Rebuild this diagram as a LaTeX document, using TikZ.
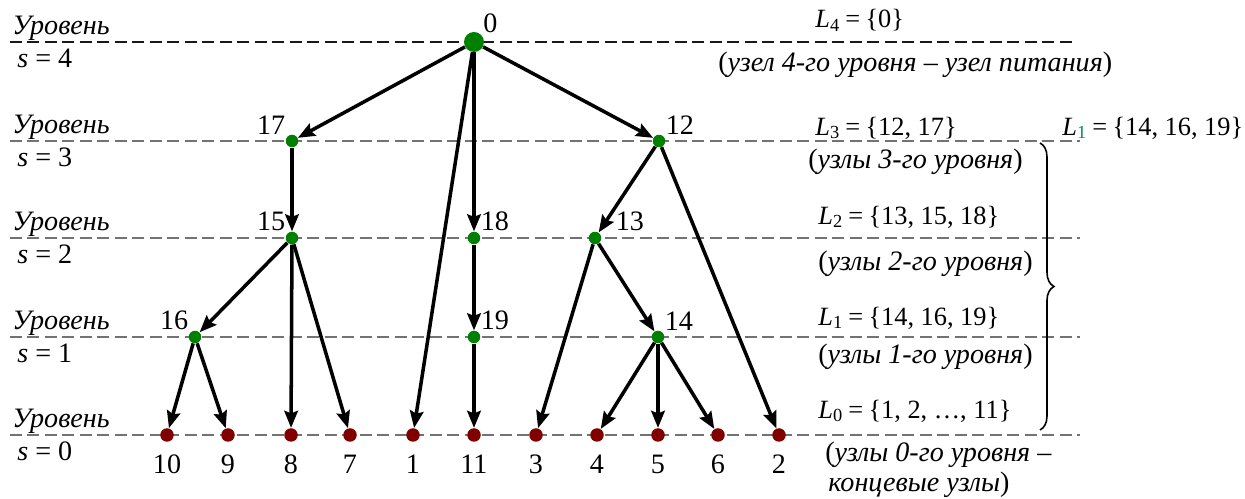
\documentclass[tikz,border=0pt]{standalone}
\usepackage{fontspec}
\setmainfont{Liberation Serif}
\usetikzlibrary{arrows.meta,decorations.pathreplacing}
\definecolor{treeInner}{RGB}{0,128,0}
\definecolor{treeLeaf}{RGB}{128,0,0}
\definecolor{treeMark}{RGB}{0,140,100}

\begin{document}
\begin{tikzpicture}[
    font=\fontsize{16}{19}\selectfont,
    inner/.style={circle, fill=treeInner, inner sep=0pt, minimum size=0.25cm},
    root/.style={circle, fill=treeInner, inner sep=0pt, minimum size=0.40cm},
    leaf/.style={circle, fill=treeLeaf, inner sep=0pt, minimum size=0.27cm},
    lab/.style={inner sep=1pt},
    leaflab/.style={inner sep=1pt, label distance=0.22cm},
    edge/.style={line width=2pt, -{Stealth[length=0.34cm, width=0.27cm, inset=0.05cm]}},
    levelline/.style={line width=0.9pt, dash pattern=on 0.24cm off 0.11cm, black!55},
    txt/.style={anchor=west, inner sep=0pt},
    settxt/.style={txt, font=\fontsize{15}{18}\selectfont}
  ]
% Tree levels, drawn in pixel units of the source figure
\def\px{0.02cm}
\providecommand{\lvlRight}{1080}
\providecommand{\Lsub}[1]{\textit{L}\textsubscript{#1}\hspace{0.2em}=\hspace{0.2em}}
\begin{scope}[x=\px, y=-\px]
  \useasboundingbox (0,0) rectangle (1245,499);
  % Level lines
  \draw[levelline, black!90] (10,42) -- (1075,42);
  \draw[levelline] (10,141) -- (\lvlRight,141);
  \draw[levelline] (10,238) -- (\lvlRight,238);
  \draw[levelline] (10,337) -- (\lvlRight,337);
  \draw[levelline] (10,435) -- (\lvlRight,435);
  % Level captions on the left
  \node[txt] (lv4) at (12,28) {\textit{Уровень}};
  \node[txt] (s4) at (17,58) {\textit{s} = 4};
  \node[txt] (lv3) at (12,127) {\textit{Уровень}};
  \node[txt] (s3) at (17,157) {\textit{s} = 3};
  \node[txt] (lv2) at (12,224) {\textit{Уровень}};
  \node[txt] (s2) at (17,254) {\textit{s} = 2};
  \node[txt] (lv1) at (12,323) {\textit{Уровень}};
  \node[txt] (s1) at (17,353) {\textit{s} = 1};
  \node[txt] (lv0) at (12,421) {\textit{Уровень}};
  \node[txt] (s0) at (17,451) {\textit{s} = 0};
  % Inner nodes
  \node[root, label={[lab]north east:0}] (n0) at (474,42) {};
  \node[inner, label={[lab]north west:17}] (n17) at (292,141) {};
  \node[inner, label={[lab]north east:12}] (n12) at (659,141) {};
  \node[inner, label={[lab]north west:15}] (n15) at (292,238) {};
  \node[inner, label={[lab]north east:18}] (n18) at (474,238) {};
  \node[inner, label={[lab, xshift=0.28cm]north east:13}] (n13) at (595,238) {};
  \node[inner, label={[lab]north west:16}] (n16) at (195,337) {};
  \node[inner, label={[lab]north east:19}] (n19) at (474,337) {};
  \node[inner, label={[lab]north east:14}] (n14) at (658,337) {};
  % Leaves
  \node[leaf, label={[leaflab]below:10}] (l10) at (167,435) {};
  \node[leaf, label={[leaflab]below:9}] (l9) at (228,435) {};
  \node[leaf, label={[leaflab]below:8}] (l8) at (291,435) {};
  \node[leaf, label={[leaflab]below:7}] (l7) at (350,435) {};
  \node[leaf, label={[leaflab]below:1}] (l1) at (413,435) {};
  \node[leaf, label={[leaflab]below:11}] (l11) at (474,435) {};
  \node[leaf, label={[leaflab]below:3}] (l3) at (536,435) {};
  \node[leaf, label={[leaflab]below:4}] (l4) at (597,435) {};
  \node[leaf, label={[leaflab]below:5}] (l5) at (658,435) {};
  \node[leaf, label={[leaflab]below:6}] (l6) at (718,435) {};
  \node[leaf, label={[leaflab]below:2}] (l2) at (779,435) {};
  % Edges
  \draw[edge] (n0) -- (n17);
  \draw[edge] (n0) -- (n12);
  \draw[edge] (n0) -- (l1);
  \draw[edge] (n0) -- (n18);
  \draw[edge] (n17) -- (n15);
  \draw[edge] (n12) -- (n13);
  \draw[edge] (n12) -- (l2);
  \draw[edge] (n15) -- (n16);
  \draw[edge] (n15) -- (l8);
  \draw[edge] (n15) -- (l7);
  \draw[edge] (n18) -- (n19);
  \draw[edge] (n19) -- (l11);
  \draw[edge] (n13) -- (l3);
  \draw[edge] (n13) -- (n14);
  \draw[edge] (n16) -- (l10);
  \draw[edge] (n16) -- (l9);
  \draw[edge] (n14) -- (l4);
  \draw[edge] (n14) -- (l5);
  \draw[edge] (n14) -- (l6);
  % Level sets on the right
  \node[settxt] (set4) at (815,20) {\Lsub{4}\{0\}};
  \node[txt] (note4) at (718,65) {(\textit{узел 4-го уровня – узел питания})};
  \node[settxt] (set3) at (815,128) {\Lsub{3}\{12, 17\}};
  \node[txt] (note3) at (808,162) {(\textit{узлы 3-го уровня})};
  \node[settxt] (set2) at (818,217) {\Lsub{2}\{13, 15, 18\}};
  \node[txt] (note2) at (818,264) {(\textit{узлы 2-го уровня})};
  \node[settxt] (set1) at (818,318) {\Lsub{1}\{14, 16, 19\}};
  \node[txt] (note1) at (818,357) {(\textit{узлы 1-го уровня})};
  \node[settxt] (set0) at (818,411) {\Lsub{0}\{1, 2, \dots, 11\}};
  \node[txt] (note0) at (825,455) {(\textit{узлы 0-го уровня –}};
  \node[txt] (note0b) at (828,485) {\textit{концевые узлы})};
  % Brace over levels 3..0
  \draw[line width=0.9pt, decorate, decoration={brace, amplitude=0.28cm}] (1040,143) -- (1040,430);
  \node[settxt] (setx) at (1062,128) {\Lsub{\color{treeMark}1}\{14, 16, 19\}};
\end{scope}
\end{tikzpicture}
\end{document}
